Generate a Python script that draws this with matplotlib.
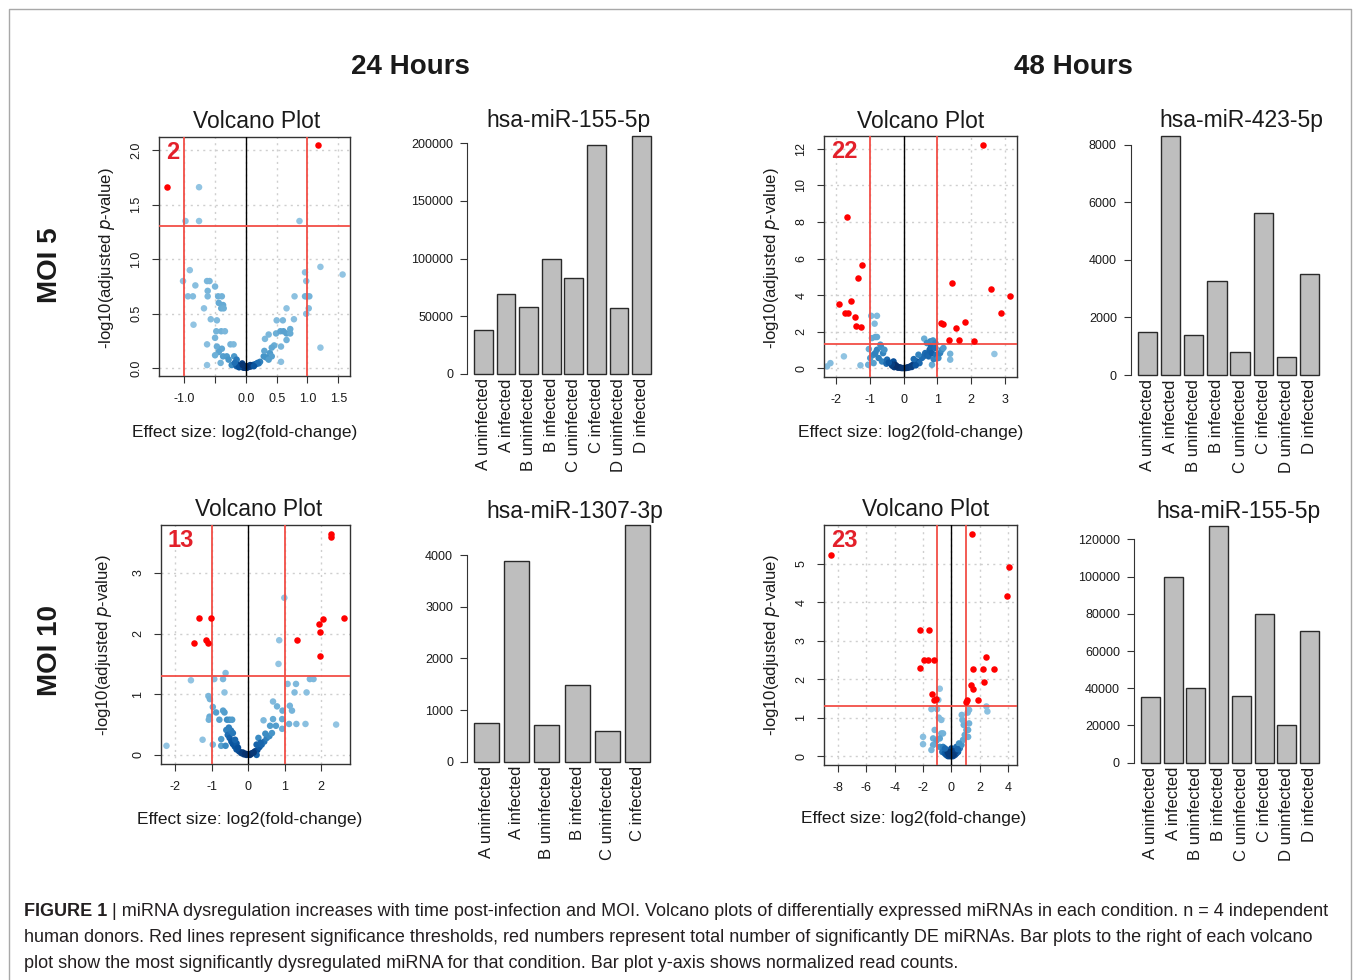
import numpy as np
import matplotlib.pyplot as plt
from matplotlib.colors import LinearSegmentedColormap
from matplotlib.lines import Line2D

plt.rcParams['font.family'] = ['Liberation Sans', 'DejaVu Sans']

# ---- data ----
# volcano points: (log2 fold change, -log10 adjusted p)
vol_24h_moi5 = [
    (-1.28, 1.66), (1.17, 2.05),
    (-0.98, 1.35), (-0.76, 1.66), (-0.76, 1.35), (0.87, 1.35),
    (-1.02, 0.80), (-0.91, 0.90), (-0.94, 0.66), (-0.86, 0.66), (-0.82, 0.76), (-0.85, 0.40),
    (-0.68, 0.55), (-0.63, 0.80), (-0.59, 0.80), (-0.62, 0.71), (-0.62, 0.66), (-0.57, 0.45),
    (-0.63, 0.22), (-0.63, 0.03), (-0.50, 0.75), (-0.45, 0.66), (-0.39, 0.66), (-0.44, 0.60),
    (-0.37, 0.58), (-0.40, 0.55), (-0.36, 0.55), (-0.47, 0.44), (-0.48, 0.34), (-0.40, 0.34),
    (-0.34, 0.34), (-0.50, 0.28), (-0.47, 0.20), (-0.39, 0.18), (-0.44, 0.15), (-0.50, 0.12),
    (-0.37, 0.11), (-0.31, 0.11), (-0.41, 0.05), (-0.25, 0.22), (-0.20, 0.22), (-0.19, 0.11),
    (-0.28, 0.08), (-0.15, 0.08), (-0.23, 0.03),
    (-0.15, 0.02), (-0.09, 0.015), (-0.04, 0.006), (0.02, 0.006), (0.06, 0.015), (0.11, 0.03),
    (0.17, 0.04), (-0.06, 0.045), (0.21, 0.046), (0.23, 0.06), (-0.12, 0.03), (-0.02, 0.01),
    (0.04, 0.02), (0.09, 0.02), (0.14, 0.035), (-0.08, 0.025), (0.00, 0.004), (0.07, 0.03),
    (-0.18, 0.05), (0.19, 0.05), (-0.11, 0.01), (0.13, 0.02), (0.01, 0.02), (-0.05, 0.03),
    (0.29, 0.11), (0.30, 0.16), (0.31, 0.27), (0.37, 0.31), (0.39, 0.14), (0.42, 0.11),
    (0.33, 0.10), (0.37, 0.08), (0.46, 0.21), (0.42, 0.19), (0.49, 0.32), (0.50, 0.44),
    (0.56, 0.34), (0.61, 0.34), (0.60, 0.44), (0.57, 0.20), (0.57, 0.06), (0.66, 0.32),
    (0.72, 0.36), (0.72, 0.32), (0.66, 0.26), (0.66, 0.55), (0.78, 0.45), (0.79, 0.66),
    (0.96, 0.66), (0.99, 0.66), (1.03, 0.66), (0.96, 0.88), (0.98, 0.80), (0.98, 0.50),
    (1.02, 0.55), (1.21, 0.93), (1.21, 0.19), (1.57, 0.86),
]

vol_48h_moi5 = [
    (2.34, 12.2), (-1.69, 8.27), (-1.23, 5.62), (-1.36, 4.93), (-1.91, 3.52), (-1.56, 3.70),
    (-1.75, 3.01), (-1.66, 3.01), (-1.43, 2.77), (-1.40, 2.32), (-1.26, 2.24),
    (1.12, 2.46), (1.16, 2.43), (1.34, 1.51), (1.44, 4.64), (1.56, 2.19), (1.64, 1.51),
    (1.83, 2.54), (2.08, 1.48), (2.59, 4.31), (2.90, 3.01), (3.15, 3.92),
    (-0.96, 2.86), (-0.79, 2.86), (-0.86, 2.43), (-0.94, 1.64), (-0.84, 1.70), (-0.79, 1.70),
    (0.61, 1.61), (0.79, 1.46), (0.87, 1.51), (0.69, 1.37), (0.94, 1.37),
    (-2.27, 0.09), (-2.17, 0.27), (-1.77, 0.64), (-1.28, 0.15), (-1.03, 1.04), (-0.99, 0.55),
    (-1.05, 0.18), (-0.89, 0.73), (-0.84, 0.82), (-0.79, 1.00), (-0.74, 0.55), (-0.69, 1.28),
    (-0.67, 1.15), (-0.61, 0.82), (-0.57, 1.00), (-0.64, 0.36), (-0.49, 0.46), (-0.51, 0.24),
    (-0.39, 0.27), (-0.34, 0.13), (-0.30, 0.36), (-0.25, 0.18), (-0.20, 0.09), (-0.12, 0.04),
    (-0.05, 0.00), (0.05, 0.00), (0.12, 0.04), (0.20, 0.09), (0.28, 0.18), (0.34, 0.24),
    (0.39, 0.36), (0.47, 0.27), (0.54, 0.55), (0.59, 0.64), (0.64, 0.82), (0.69, 0.73),
    (0.74, 0.64), (0.77, 1.00), (0.81, 1.15), (0.84, 0.82), (0.84, 0.18), (0.89, 0.49),
    (0.94, 1.10), (0.97, 0.73), (1.03, 0.55), (1.08, 0.82), (1.13, 1.00), (1.18, 1.10),
    (1.38, 0.78), (1.38, 0.46), (2.69, 0.77), (-0.89, 0.27), (0.30, 0.49), (0.44, 0.73),
    (-0.28, 0.05), (-0.17, 0.02), (-0.09, 0.01), (0.00, 0.00), (0.09, 0.01), (0.16, 0.03),
    (0.24, 0.06), (-0.22, 0.12), (0.25, 0.14), (-0.35, 0.20), (0.36, 0.15), (-0.44, 0.30),
]

vol_24h_moi10 = [
    (2.28, 3.64), (2.28, 3.60), (-1.34, 2.26), (-1.02, 2.26), (-1.48, 1.84), (-1.16, 1.90),
    (-1.11, 1.84), (1.34, 1.89), (1.93, 2.16), (2.05, 2.24), (1.96, 2.03), (1.97, 1.63),
    (2.62, 2.25),
    (0.99, 2.59), (0.85, 1.89), (0.83, 1.50), (-0.62, 1.35), (-1.57, 1.23), (-0.93, 1.25),
    (-0.69, 1.25), (-0.65, 1.03), (-1.09, 0.97), (-1.05, 0.92), (-0.97, 0.79), (-1.06, 0.63),
    (-1.08, 0.58), (-0.88, 0.70), (-0.69, 0.73), (-0.65, 0.70), (-0.79, 0.58), (-0.58, 0.58),
    (-0.51, 0.58), (-0.44, 0.58), (-2.24, 0.15), (-1.25, 0.25), (-0.97, 0.17), (-0.74, 0.15),
    (-0.62, 0.15), (-0.74, 0.26), (-0.60, 0.41), (-0.56, 0.33), (-0.51, 0.28), (-0.46, 0.22),
    (-0.42, 0.18), (-0.37, 0.14), (-0.32, 0.09), (-0.25, 0.06), (-0.19, 0.03), (-0.12, 0.01),
    (-0.05, 0.00), (0.05, 0.00), (0.12, 0.03), (0.19, 0.06), (0.25, 0.08), (0.31, 0.13),
    (0.37, 0.17), (0.44, 0.22), (0.51, 0.28), (0.58, 0.31), (0.65, 0.36), (0.42, 0.57),
    (0.68, 0.59), (0.68, 0.88), (0.79, 0.80), (0.94, 0.73), (0.93, 0.59), (0.76, 0.48),
    (0.93, 0.43), (0.60, 0.48), (1.08, 1.17), (1.14, 0.81), (1.12, 0.51), (1.20, 0.73),
    (1.27, 1.03), (1.31, 1.17), (1.32, 0.51), (1.57, 0.51), (1.60, 1.03), (1.69, 1.25),
    (1.79, 1.25), (2.41, 0.50), (0.23, 0.00), (-0.42, 0.36), (-0.32, 0.19), (0.28, 0.28),
    (0.23, 0.17), (-0.28, 0.12), (-0.15, 0.04), (-0.08, 0.02), (0.00, 0.01), (0.08, 0.02),
    (0.15, 0.04), (0.34, 0.20), (-0.36, 0.25), (-0.47, 0.40), (0.47, 0.35), (-0.53, 0.45),
]

vol_48h_moi10 = [
    (-8.47, 5.23), (1.48, 5.77), (4.07, 4.91), (3.93, 4.16), (-2.19, 3.27), (-1.60, 3.27),
    (-2.19, 2.29), (-1.95, 2.49), (-1.65, 2.49), (-1.22, 2.49), (-1.39, 1.61), (-1.25, 1.46),
    (-1.06, 1.48), (1.03, 1.41), (1.11, 1.46), (1.53, 2.27), (1.36, 1.85), (1.53, 1.74),
    (1.91, 1.46), (2.24, 2.26), (2.42, 2.57), (2.28, 1.92), (2.99, 2.26),
    (-0.82, 1.75), (-0.92, 1.46), (-1.41, 1.22), (-1.01, 1.22), (-2.00, 0.50), (-2.00, 0.31),
    (1.25, 1.20), (1.15, 1.13), (2.47, 1.29), (2.54, 1.16), (-0.89, 1.00), (-0.71, 0.94),
    (-1.18, 0.68), (-0.71, 0.59), (-0.59, 0.59), (-1.29, 0.46), (-1.06, 0.40), (-0.82, 0.46),
    (-1.29, 0.29), (-0.82, 0.24), (-0.59, 0.24), (-1.41, 0.16), (-0.64, 0.11), (-0.47, 0.07),
    (-0.35, 0.03), (-0.24, 0.00), (-0.12, 0.00), (0.00, 0.00), (0.12, 0.00), (0.24, 0.03),
    (0.35, 0.07), (0.47, 0.11), (0.59, 0.20), (0.71, 0.29), (0.82, 0.42), (0.94, 0.55),
    (1.06, 0.68), (0.87, 0.81), (1.18, 0.50), (1.25, 0.85), (0.78, 0.94), (0.73, 1.07),
    (1.18, 0.68), (0.00, 0.20), (-0.35, 0.16), (0.35, 0.24), (0.54, 0.33), (-0.18, 0.05),
    (0.18, 0.06), (-0.06, 0.10), (0.06, 0.12), (-0.25, 0.10), (0.28, 0.12), (-0.45, 0.20),
    (0.45, 0.18), (-0.10, 0.02), (0.10, 0.03),
]

bar_groups_8 = ['A uninfected', 'A infected', 'B uninfected', 'B infected',
                'C uninfected', 'C infected', 'D uninfected', 'D infected']
bar_groups_6 = bar_groups_8[:6]

mir155_24h = [38000, 69500, 58000, 99500, 83500, 198500, 57500, 206000]
mir423_48h = [1480, 8310, 1380, 3270, 790, 5620, 610, 3500]
mir1307_24h = [755, 3890, 703, 1477, 587, 4581]
mir155_48h = [35500, 100000, 40000, 127000, 36000, 80000, 20500, 70500]

de_counts = [2, 22, 13, 23]

# ---- figure ----
W, H = 1355, 980
fig = plt.figure(figsize=(W / 100, H / 100), dpi=100)

TXT = '#1a1a1a'
RED_LINE = '#F24E46'
blues = LinearSegmentedColormap.from_list(
    'dens', ['#92C4E2', '#6BAED6', '#4292C6', '#2171B5', '#08519C', '#08306B'])


def box(l, t, r, b):
    return fig.add_axes([l / W, 1 - b / H, (r - l) / W, (b - t) / H])


def ftext(x, y, s, **kw):
    return fig.text(x / W, 1 - y / H, s, **kw)


def dens_colors(ax, x, y):
    # density of neighbours in screen space, like R's densCols
    pts = ax.transData.transform(np.column_stack([x, y]))
    d2 = ((pts[:, None, :] - pts[None, :, :]) ** 2).sum(-1)
    dens = np.exp(-d2 / (2 * 6.0 ** 2)).sum(1)
    z = (dens - dens.min()) / (dens.max() - dens.min())
    return blues(z)


def volcano(pos, xlim, ylim, xticks, xlabels, yticks, ylabels, pts, count):
    ax = box(*pos)
    ax.set_xlim(xlim)
    ax.set_ylim(ylim)
    x, y = np.array(pts).T
    sig = (np.abs(x) > 1) & (y > -np.log10(0.05))

    for t in xticks:
        ax.axvline(t, color='#CFCFCF', ls=(0, (1.5, 3)), lw=1, zorder=0)
    for t in yticks:
        ax.axhline(t, color='#CFCFCF', ls=(0, (1.5, 3)), lw=1, zorder=0)

    ax.scatter(x[~sig], y[~sig], s=22, c=dens_colors(ax, x[~sig], y[~sig]),
               linewidths=0, zorder=2)
    ax.axvline(0, color='black', lw=1, zorder=3)
    for v in (-1, 1):
        ax.axvline(v, color=RED_LINE, lw=1.3, zorder=3)
    ax.axhline(-np.log10(0.05), color=RED_LINE, lw=1.3, zorder=3)
    ax.scatter(x[sig], y[sig], s=22, c='#FF0000', linewidths=0, zorder=4)

    ax.set_xticks(xticks)
    ax.set_xticklabels(xlabels)
    ax.set_yticks(yticks)
    ax.set_yticklabels(ylabels, rotation=90, va='center')
    ax.tick_params(direction='out', length=5, width=0.8, color='#333333',
                   labelsize=9, labelcolor=TXT, pad=7)
    for sp in ax.spines.values():
        sp.set_color('#333333')
        sp.set_linewidth(1)

    ax.annotate(str(count), xy=(0, 1), xycoords='axes fraction', xytext=(5, -3),
                textcoords='offset points', ha='left', va='top',
                fontsize=17, fontweight='bold', color='#E3202A')
    return ax


def barplot(vals, labels, xl_px, xr_px, y0_px, yt_px, yt_val, yticks):
    n = len(vals)
    span = 1.2 * n - 0.2
    ext = 0.04 * span
    ppu = (xr_px - xl_px) / span
    ppy = (y0_px - yt_px) / yt_val
    vmax = max(vals)
    ax = box(xl_px - ext * ppu, y0_px - 1.04 * vmax * ppy,
             xr_px + ext * ppu, y0_px + 0.04 * vmax * ppy)
    ax.set_xlim(0.2 - ext, 1.2 * n + ext)
    ax.set_ylim(-0.04 * vmax, 1.04 * vmax)

    centers = 0.7 + 1.2 * np.arange(n)
    ax.bar(centers, vals, width=1, color='#BEBEBE', edgecolor='#2a2a2a', linewidth=1)

    for sp in ['top', 'right', 'bottom']:
        ax.spines[sp].set_visible(False)
    ax.spines['left'].set_bounds(yticks[0], yticks[-1])
    ax.spines['left'].set_color('#333333')
    ax.set_xticks([])
    ax.set_yticks(yticks)
    ax.set_yticklabels([str(v) for v in yticks])
    ax.tick_params(axis='y', direction='out', length=5, width=0.8, color='#333333',
                   labelsize=9, labelcolor=TXT, pad=5)
    for c, lab in zip(centers, labels):
        ax.annotate(lab, xy=(c, 0), xycoords='data', xytext=(0, -3),
                    textcoords='offset points', rotation=90, ha='center', va='top',
                    fontsize=12, color=TXT)
    return ax


# volcano plots
volcano((159, 137, 350, 376), (-1.41, 1.69), (-0.07, 2.12),
        [-1.0, -0.5, 0.0, 0.5, 1.0, 1.5], ['-1.0', '', '0.0', '0.5', '1.0', '1.5'],
        [0.0, 0.5, 1.0, 1.5, 2.0], ['0.0', '0.5', '1.0', '1.5', '2.0'],
        vol_24h_moi5, de_counts[0])
volcano((824, 136, 1017, 377), (-2.36, 3.36), (-0.49, 12.71),
        [-2, -1, 0, 1, 2, 3], ['-2', '-1', '0', '1', '2', '3'],
        [0, 2, 4, 6, 8, 10, 12], ['0', '2', '4', '6', '8', '10', '12'],
        vol_48h_moi5, de_counts[1])
volcano((161, 525, 350, 764), (-2.39, 2.79), (-0.15, 3.79),
        [-2, -1, 0, 1, 2], ['-2', '-1', '0', '1', '2'],
        [0, 1, 2, 3], ['0', '1', '2', '3'],
        vol_24h_moi10, de_counts[2])
volcano((824, 525, 1017, 765), (-8.99, 4.63), (-0.23, 6.0),
        [-8, -6, -4, -2, 0, 2, 4], ['-8', '-6', '-4', '-2', '0', '2', '4'],
        [0, 1, 2, 3, 4, 5], ['0', '1', '2', '3', '4', '5'],
        vol_48h_moi10, de_counts[3])

# bar plots
barplot(mir155_24h, bar_groups_8, 474, 651, 374, 143.3, 200000,
        [0, 50000, 100000, 150000, 200000])
barplot(mir423_48h, bar_groups_8, 1138, 1319, 375, 145, 8000,
        [0, 2000, 4000, 6000, 8000])
barplot(mir1307_24h, bar_groups_6, 474, 650, 761.7, 555, 4000,
        [0, 1000, 2000, 3000, 4000])
barplot(mir155_48h, bar_groups_8, 1141, 1319, 762.7, 539.3, 120000,
        [0, 20000, 40000, 60000, 80000, 100000, 120000])

# panel titles
for (x, y), s in zip([(257, 121), (921, 121), (259, 510), (926, 510)],
                     ['Volcano Plot'] * 4):
    ftext(x, y, s, ha='center', va='center', fontsize=16.5, color=TXT)
for (x, y), s in zip([(569, 121), (1241, 120), (575, 511), (1238, 511)],
                     ['hsa-miR-155-5p', 'hsa-miR-423-5p', 'hsa-miR-1307-3p', 'hsa-miR-155-5p']):
    ftext(x, y, s, ha='center', va='center', fontsize=16.5, color=TXT)

# axis labels of the volcano plots
for x, y in [(245, 432), (911, 432), (250, 819), (914, 818)]:
    ftext(x, y, 'Effect size: log2(fold-change)', ha='center', va='center',
          fontsize=12.5, color=TXT)
for x, y in [(107, 258), (772, 258), (104, 645), (772, 645)]:
    ftext(x, y, r'-log10(adjusted $\it{p}$-value)', ha='center', va='center',
          rotation=90, fontsize=12, color=TXT)

# row / column headers
ftext(410, 67, '24 Hours', ha='center', va='center', fontsize=20, fontweight='bold', color=TXT)
ftext(1073, 67, '48 Hours', ha='center', va='center', fontsize=20, fontweight='bold', color=TXT)
ftext(50, 265, 'MOI 5', ha='center', va='center', rotation=90, fontsize=20,
      fontweight='bold', color=TXT)
ftext(50, 650, 'MOI 10', ha='center', va='center', rotation=90, fontsize=20,
      fontweight='bold', color=TXT)

# frame
fig.add_artist(Line2D([9 / W, 9 / W, 1351 / W, 1351 / W], [0, 1 - 9 / H, 1 - 9 / H, 0],
                      color='#A8A8A8', lw=1, transform=fig.transFigure))

# caption
CAP = '#231F20'
CAP_SIZE = 13
fig.canvas.draw()
renderer = fig.canvas.get_renderer()
t = ftext(24, 911, 'FIGURE 1', ha='left', va='center', fontsize=CAP_SIZE,
          fontweight='bold', color=CAP)
wpx = t.get_window_extent(renderer).width
ftext(24 + wpx, 911, ' | miRNA dysregulation increases with time post-infection and MOI. '
      'Volcano plots of differentially expressed miRNAs in each condition. n = 4 independent',
      ha='left', va='center', fontsize=CAP_SIZE, color=CAP)
ftext(24, 937, 'human donors. Red lines represent significance thresholds, red numbers represent '
      'total number of significantly DE miRNAs. Bar plots to the right of each volcano',
      ha='left', va='center', fontsize=CAP_SIZE, color=CAP)
ftext(24, 963, 'plot show the most significantly dysregulated miRNA for that condition. '
      'Bar plot y-axis shows normalized read counts.',
      ha='left', va='center', fontsize=CAP_SIZE, color=CAP)

fig.savefig('out.png', dpi=100)
